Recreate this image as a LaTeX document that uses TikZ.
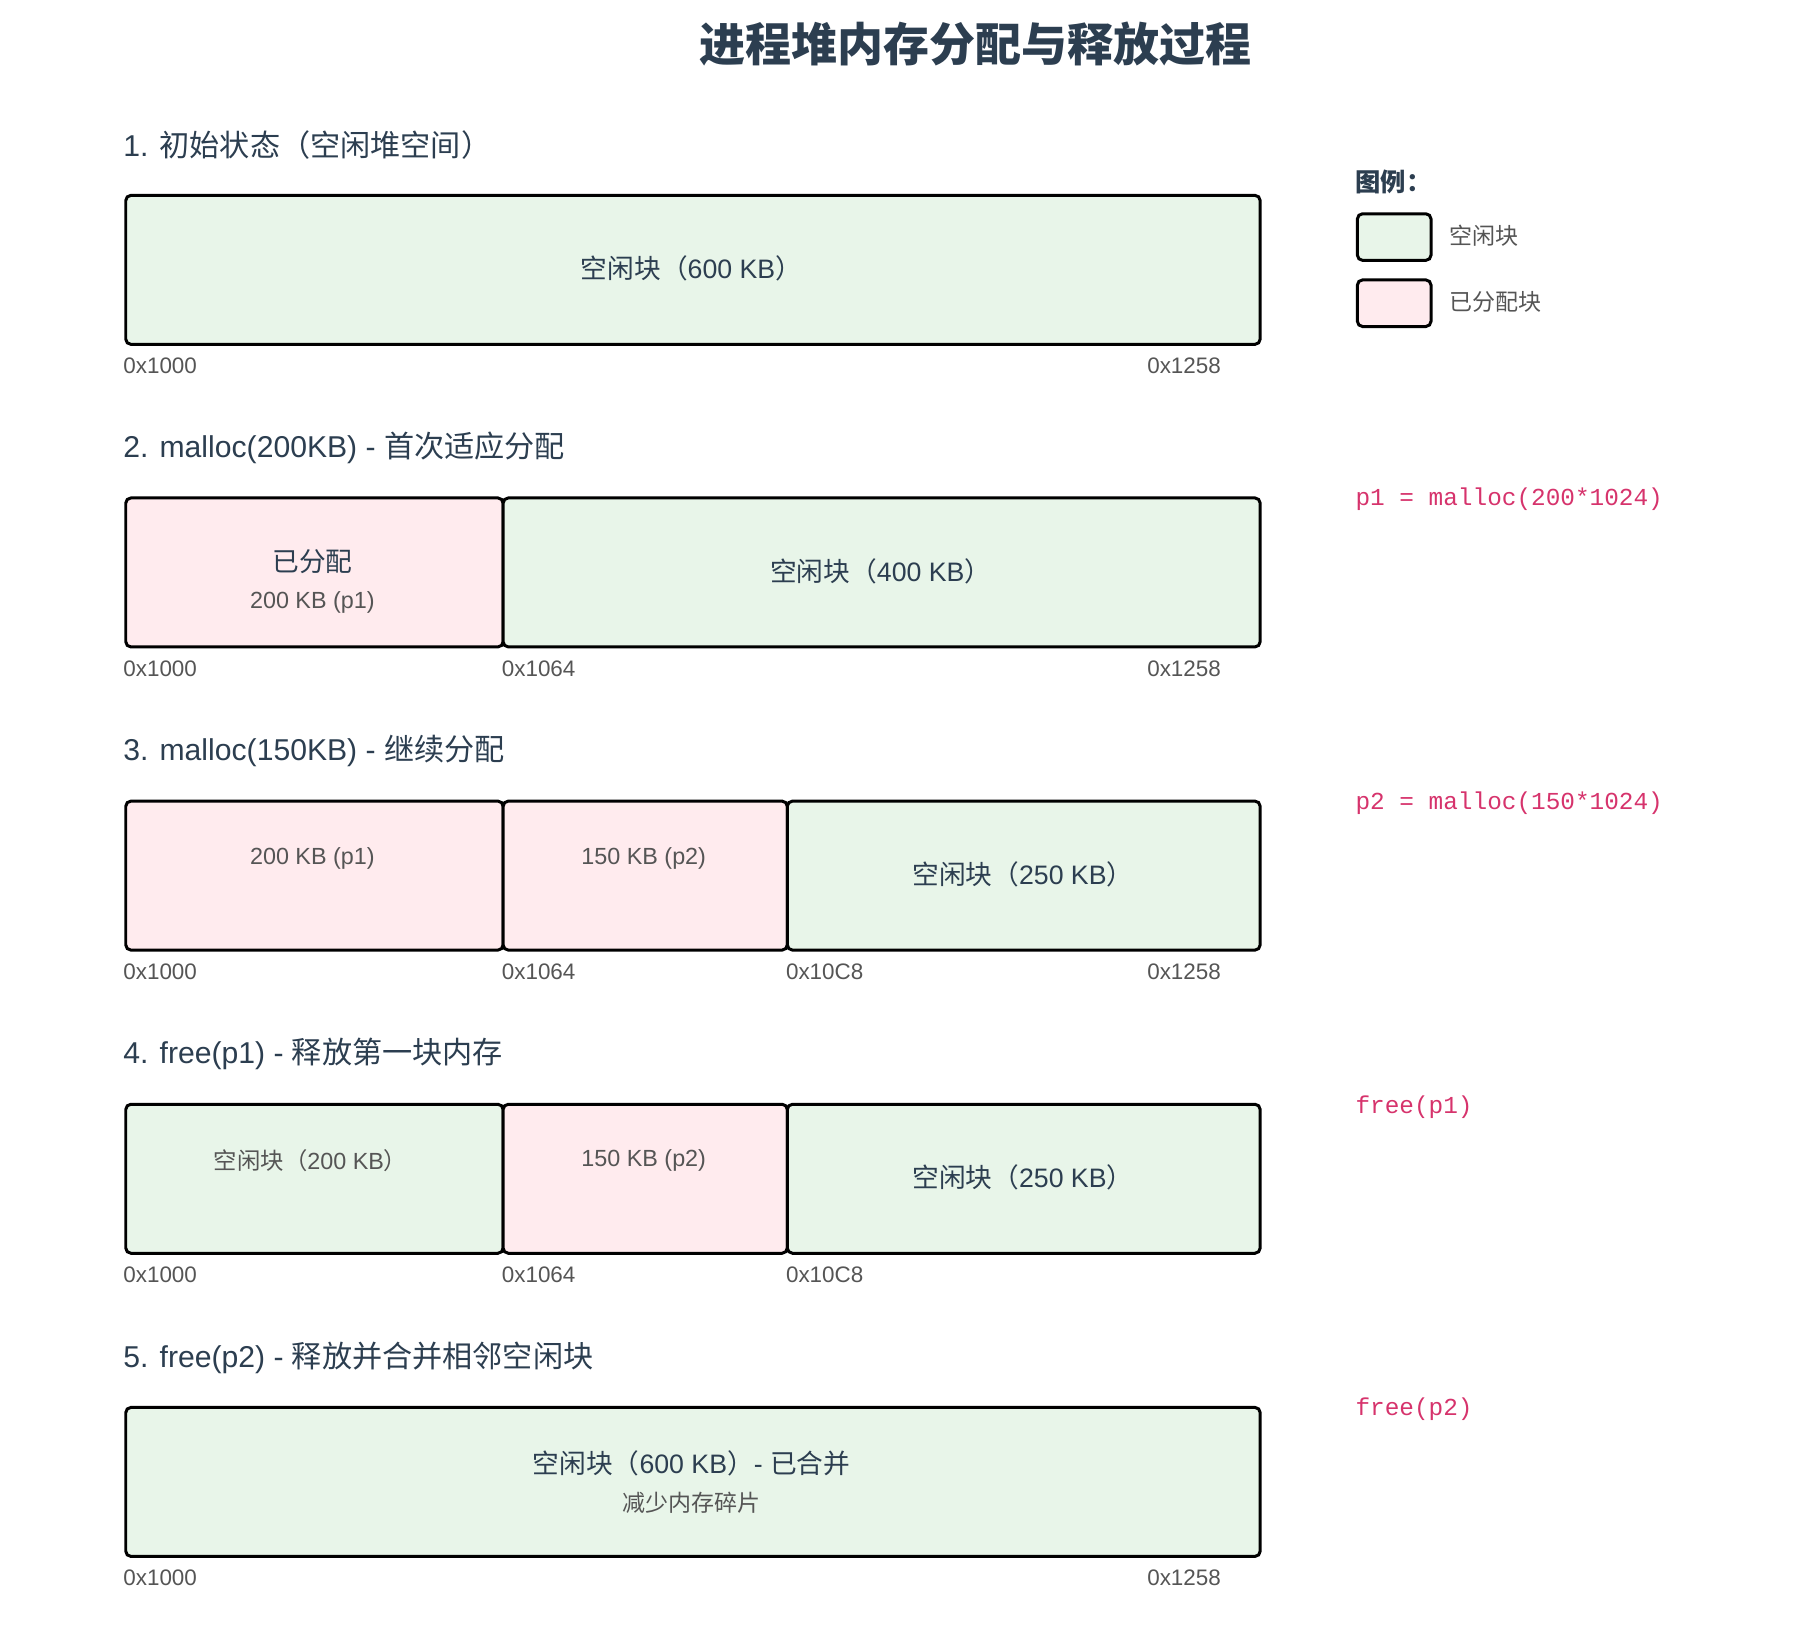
\documentclass[tikz,border=0pt]{standalone}
\usepackage{fontspec}
\setmainfont{Liberation Sans}
\newfontfamily\cjk{Noto Sans CJK SC}
\newfontfamily\codefont{Liberation Mono}
\newcommand\zh[1]{{\cjk #1}}
\definecolor{navy}{HTML}{2C3E50}
\definecolor{grayT}{HTML}{555555}
\definecolor{freeC}{HTML}{E8F5E9}
\definecolor{usedC}{HTML}{FFEBEE}
\definecolor{codeC}{HTML}{D6336C}
\tikzset{
 blk/.style={draw=black, line width=2.6pt, rounded corners=4.5pt, inner sep=0pt, anchor=north west, minimum height=129.5pt},
 freeblk/.style={blk, fill=freeC},
 usedblk/.style={blk, fill=usedC},
 heading/.style={anchor=west, inner sep=0pt, text=navy, font=\fontsize{26.2}{30}\selectfont},
 addr/.style={anchor=west, inner sep=0pt, text=grayT, font=\fontsize{19.5}{22}\selectfont},
 maintxt/.style={inner sep=0pt, text=navy, font=\fontsize{23.2}{27}\selectfont},
 subtxt/.style={inner sep=0pt, text=grayT, font=\fontsize{20.3}{23}\selectfont},
 codetxt/.style={anchor=west, inner sep=0pt, text=codeC, font=\codefont\fontsize{21.2}{24}\selectfont},
 legbox/.style={draw=black, line width=2.6pt, rounded corners=4.5pt, anchor=north west, minimum width=64pt, minimum height=40.5pt, inner sep=0pt},
}
\begin{document}
\begin{tikzpicture}[x=1pt,y=-1pt]
\useasboundingbox (0,0) rectangle (1568,1412);
% title
\node[inner sep=0pt, text=navy, font=\cjk\bfseries\fontsize{40}{46}\selectfont] (title) at (848,38) {进程堆内存分配与释放过程};

% legend
\node[anchor=west, inner sep=0pt, text=navy, font=\cjk\bfseries\fontsize{22}{26}\selectfont] (legt) at (1178,158) {图例：};
\node[legbox, fill=freeC] (legf) at (1178.5,184.5) {};
\node[legbox, fill=usedC] (legu) at (1178.5,242) {};
\node[anchor=west, inner sep=0pt, text=grayT, font=\cjk\fontsize{20}{23}\selectfont] (legft) at (1260,205) {空闲块};
\node[anchor=west, inner sep=0pt, text=grayT, font=\cjk\fontsize{20}{23}\selectfont] (legut) at (1260,262.5) {已分配块};

% ---------- row 1
\node[heading] (h1) at (107,126) {1. \zh{初始状态（空闲堆空间）}};
\node[freeblk, minimum width=986pt] (r1a) at (108,168.5) {};
\node[maintxt] (t1a) at (601,233) {\zh{空闲块（}600 KB\zh{）}};
\node[addr] (a1a) at (107,318) {0x1000};
\node[addr] (a1z) at (997,318) {0x1258};

% ---------- row 2
\node[heading] (h2) at (107,389) {2. malloc(200KB) - \zh{首次适应分配}};
\node[usedblk, minimum width=328pt] (r2a) at (108,431.5) {};
\node[freeblk, minimum width=658pt] (r2b) at (436,431.5) {};
\node[maintxt, font=\cjk\fontsize{23.2}{27}\selectfont] (t2a) at (271.5,488.5) {已分配};
\node[subtxt] (s2a) at (271.5,523.5) {200 KB (p1)};
\node[maintxt] (t2b) at (765.5,496.5) {\zh{空闲块（}400 KB\zh{）}};
\node[addr] (a2a) at (107,581) {0x1000};
\node[addr] (a2b) at (436,581) {0x1064};
\node[addr] (a2z) at (997,581) {0x1258};
\node[codetxt] (c2) at (1178,434) {p1 = malloc(200*1024)};

% ---------- row 3
\node[heading] (h3) at (107,653) {3. malloc(150KB) - \zh{继续分配}};
\node[usedblk, minimum width=328pt] (r3a) at (108,695) {};
\node[usedblk, minimum width=247pt] (r3b) at (436,695) {};
\node[freeblk, minimum width=411pt] (r3c) at (683,695) {};
\node[subtxt] (s3a) at (271.5,746) {200 KB (p1)};
\node[subtxt] (s3b) at (559.5,746) {150 KB (p2)};
\node[maintxt] (t3c) at (889,760) {\zh{空闲块（}250 KB\zh{）}};
\node[addr] (a3a) at (107,844.5) {0x1000};
\node[addr] (a3b) at (436,844.5) {0x1064};
\node[addr] (a3c) at (683,844.5) {0x10C8};
\node[addr] (a3z) at (997,844.5) {0x1258};
\node[codetxt] (c3) at (1178,698) {p2 = malloc(150*1024)};

% ---------- row 4
\node[heading] (h4) at (107,916) {4. free(p1) - \zh{释放第一块内存}};
\node[freeblk, minimum width=328pt] (r4a) at (108,958.5) {};
\node[usedblk, minimum width=247pt] (r4b) at (436,958.5) {};
\node[freeblk, minimum width=411pt] (r4c) at (683,958.5) {};
\node[subtxt] (s4a) at (270,1009) {\zh{空闲块（}200 KB\zh{）}};
\node[subtxt] (s4b) at (559.5,1009) {150 KB (p2)};
\node[maintxt] (t4c) at (889,1023.5) {\zh{空闲块（}250 KB\zh{）}};
\node[addr] (a4a) at (107,1108) {0x1000};
\node[addr] (a4b) at (436,1108) {0x1064};
\node[addr] (a4c) at (683,1108) {0x10C8};
\node[codetxt] (c4) at (1178,962) {free(p1)};

% ---------- row 5
\node[heading] (h5) at (107,1180) {5. free(p2) - \zh{释放并合并相邻空闲块}};
\node[freeblk, minimum width=986pt] (r5a) at (108,1222) {};
\node[maintxt] (t5a) at (601,1271.5) {\zh{空闲块（}600 KB\zh{）}- \zh{已合并}};
\node[subtxt, font=\cjk\fontsize{20}{23}\selectfont] (s5a) at (601,1306.5) {减少内存碎片};
\node[addr] (a5a) at (107,1371) {0x1000};
\node[addr] (a5z) at (997,1371) {0x1258};
\node[codetxt] (c5) at (1178,1225) {free(p2)};
\end{tikzpicture}
\end{document}
